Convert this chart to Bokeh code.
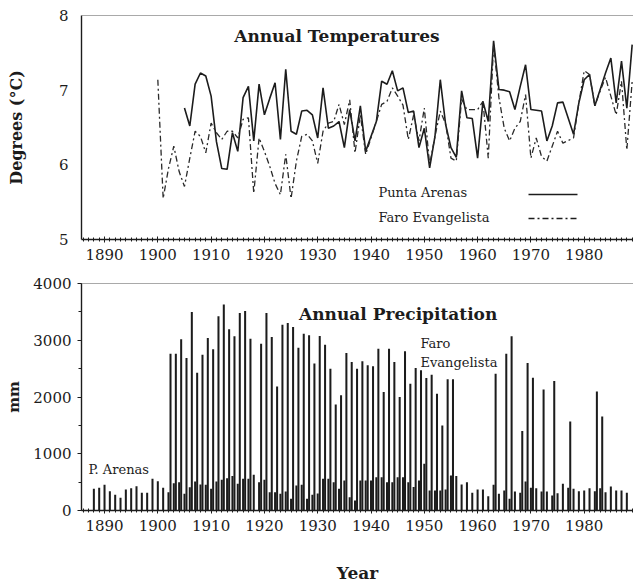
import math
from bokeh.plotting import figure
from bokeh.layouts import column
from bokeh.models import (Range1d, SingleIntervalTicker, FixedTicker, Label, Span,
                          ColumnDataSource, Arrow)
from bokeh.transform import dodge
from bokeh.embed import file_html
from bokeh.resources import INLINE

# ---------------- data ----------------
pa_temp_years = (list(range(1905, 1940)) + list(range(1941, 1977)) + list(range(1978, 1990)))
pa_temp = [6.76, 6.52, 7.08, 7.23, 7.19, 6.92, 6.31, 5.95, 5.94, 6.43,
           6.18, 6.90, 7.05, 6.32, 7.08, 6.67, 6.89, 7.10, 6.34, 7.28,
           6.45, 6.41, 6.72, 6.73, 6.67, 6.36, 7.03, 6.49, 6.52, 6.58,
           6.23, 6.74, 6.32, 6.79, 6.18,
           6.58, 7.12, 7.08, 7.26, 6.99, 7.03, 6.70, 6.72, 6.23, 6.49,
           5.96, 6.38, 7.14, 6.54, 6.23, 6.10, 6.99, 6.63, 6.62, 6.09,
           6.85, 6.58, 7.66, 7.01, 7.00, 6.98, 6.74, 7.05, 7.34, 6.74,
           6.73, 6.72, 6.32, 6.52, 6.83, 6.84,
           6.41, 6.83, 7.14, 7.21, 6.79, 7.01, 7.23, 7.43, 6.83, 7.39, 6.76, 7.61]

fe_temp_years = (list(range(1900, 1940)) + list(range(1941, 1977)) + list(range(1978, 1990)))
fe_temp = [7.14, 5.55, 5.95, 6.25, 5.91, 5.71, 6.09, 6.45, 6.38, 6.16,
           6.56, 6.43, 6.34, 6.45, 6.45, 6.36, 6.61, 6.63, 5.62, 6.36,
           6.18, 5.98, 5.75, 5.60, 6.14, 5.55, 6.05, 6.38, 6.41, 6.32,
           6.02, 6.45, 6.56, 6.58, 6.81, 6.54, 6.87, 6.16, 6.67, 6.14,
           6.58, 6.81, 6.85, 7.03, 6.92, 6.80, 6.34, 6.67, 6.32, 6.76,
           6.00, 6.38, 6.72, 6.55, 6.09, 6.05, 6.88, 6.74, 6.74, 6.74,
           6.85, 6.09, 7.61, 6.90, 6.49, 6.32, 6.49, 6.58, 6.94, 6.09,
           6.36, 6.11, 6.05, 6.25, 6.45, 6.29,
           6.36, 6.83, 7.26, 7.21, 6.79, 6.99, 7.17, 6.92, 6.67, 7.12, 6.20, 7.12]

pa_precip_years = list(range(1888, 1989))
pa_precip = [383, 400, 453, 340, 277, 224, 370, 393, 429, 312,
             312, 559, 517, 400, 323, 482, 500, 294, 411, 511,
             459, 453, 382, 511, 541, 570, 606, 470, 559, 559,
             629, 500, 541, 323, 323, 294, 335, 206, 441, 453,
             206, 276, 300, 559, 559, 500, 382, 529, 235, 176,
             529, 529, 529, 588, 588, 500, 500, 588, 588, 500,
             412, 530, 823, 353, 353, 353, 370, 617, 606, 459,
             500, 312, 370, 370, 253, 453, 294, 353, 206, 335,
             312, 511, 400, 394, 335, 335, 265, 306, 470, 400,
             382, 341, 353, 394, 341, 394, 323, 423, 353, 353,
             312]

fe_precip_years = (list(range(1902, 1918)) + list(range(1919, 1956)) +
                   [1963, 1965, 1966, 1968, 1969, 1970, 1972, 1974, 1977, 1982, 1983])
fe_precip = [2763, 2763, 3016, 2686, 3497, 2428, 2746, 3039, 2840, 3422,
             3628, 3192, 3069, 3480, 3515, 3028,
             2940, 3480, 3057, 2187, 3275, 3304, 3233, 2869, 3116, 3086,
             2590, 3075, 2922, 2499, 1868, 2029, 2775, 2617, 2500, 2628,
             2558, 2540, 2852, 2087, 2852, 2617, 2000, 2805, 2234, 2511,
             2470, 2334, 2393, 2058, 1500, 2311, 2311,
             2411, 2764, 3070, 1400, 2599, 2340, 2134, 2281, 1570, 2099, 1658]

temp_ticks = [5, 6, 7, 8]

# ---------------- styling ----------------
FONT = "DejaVu Serif"
INK = "#1c1c1c"
X0, X1 = 1885.68, 1989.25


def style_common(p):
    p.xgrid.visible = False
    p.ygrid.visible = False
    p.outline_line_color = None
    p.background_fill_color = "white"
    p.border_fill_color = "white"
    xa = p.xaxis[0]
    xa.ticker = SingleIntervalTicker(interval=10, num_minor_ticks=10)
    xa.major_label_text_font = FONT
    xa.major_label_text_font_size = "15px"
    xa.major_label_text_color = INK
    xa.axis_line_color = INK
    xa.axis_line_width = 1.4
    xa.major_tick_line_color = INK
    xa.minor_tick_line_color = INK
    xa.major_tick_in = 3
    xa.major_tick_out = 3
    xa.minor_tick_in = 2
    xa.minor_tick_out = 2
    xa.major_label_standoff = 6
    ya = p.yaxis[0]
    ya.major_label_text_font = FONT
    ya.major_label_text_font_size = "15px"
    ya.major_label_text_color = INK
    ya.axis_line_color = INK
    ya.axis_line_width = 1.4
    ya.major_tick_line_color = INK
    ya.minor_tick_line_color = INK
    ya.axis_label_text_font = FONT
    ya.axis_label_text_font_style = "bold"
    ya.axis_label_text_color = INK


# ---------------- top: temperatures ----------------
p1 = figure(width=633, height=271, output_backend="svg", toolbar_location=None,
            x_range=Range1d(X0, X1), y_range=Range1d(5, 8),
            min_border_left=81, min_border_right=0, min_border_top=15, min_border_bottom=32)
style_common(p1)
p1.yaxis[0].ticker = FixedTicker(ticks=temp_ticks)
p1.yaxis[0].major_tick_out = 0
p1.yaxis[0].major_tick_in = 0
p1.yaxis[0].major_label_standoff = 13
p1.yaxis[0].axis_label = "Degrees (°C)"
p1.yaxis[0].axis_label_text_font_size = "16px"
p1.yaxis[0].axis_label_standoff = 30

p1.add_layout(Span(location=8, dimension="width", line_color="#555", line_width=1))

p1.line(pa_temp_years, pa_temp, line_color=INK, line_width=1.6)
p1.line(fe_temp_years, fe_temp, line_color="#2a2a2a", line_width=1.3, line_dash="6 3 2 3")

p1.add_layout(Label(x=1933.6, y=7.732, text="Annual Temperatures", text_font=FONT,
                    text_font_style="bold", text_font_size="17px", text_color=INK,
                    text_align="center", text_baseline="middle"))
p1.add_layout(Label(x=1941.4, y=5.634, text="Punta Arenas", text_font=FONT,
                    text_font_size="13px", text_color=INK, text_align="left",
                    text_baseline="middle"))
p1.add_layout(Label(x=1941.4, y=5.291, text="Faro Evangelista", text_font=FONT,
                    text_font_size="13px", text_color=INK, text_align="left",
                    text_baseline="middle"))
p1.add_layout(Arrow(end=None, x_start=1969.55, y_start=5.603, x_end=1978.74, y_end=5.603,
                    line_color=INK, line_width=1.4))
p1.add_layout(Arrow(end=None, x_start=1969.55, y_start=5.281, x_end=1978.93, y_end=5.281,
                    line_color=INK, line_width=1.3, line_dash="6 3 2 3"))

# ---------------- bottom: precipitation ----------------
p2 = figure(width=633, height=316, output_backend="svg", toolbar_location=None,
            x_range=Range1d(X0, X1), y_range=Range1d(0, 4000),
            min_border_left=81, min_border_right=0, min_border_top=12, min_border_bottom=77)
style_common(p2)
p2.yaxis[0].ticker = SingleIntervalTicker(interval=1000, num_minor_ticks=2)
p2.yaxis[0].major_tick_out = 4
p2.yaxis[0].major_tick_in = 0
p2.yaxis[0].minor_tick_out = 3
p2.yaxis[0].minor_tick_in = 0
p2.yaxis[0].major_label_standoff = 6
p2.yaxis[0].axis_label = "mm"
p2.yaxis[0].axis_label_text_font_size = "15px"
p2.yaxis[0].axis_label_standoff = 7
p2.xaxis[0].axis_label = "Year"
p2.xaxis[0].axis_label_text_font = FONT
p2.xaxis[0].axis_label_text_font_style = "bold"
p2.xaxis[0].axis_label_text_font_size = "17px"
p2.xaxis[0].axis_label_text_color = INK
p2.xaxis[0].axis_label_standoff = 29

p2.add_layout(Span(location=4000, dimension="width", line_color="#555", line_width=1))

src_pa = ColumnDataSource(dict(year=pa_precip_years, mm=pa_precip))
src_fe = ColumnDataSource(dict(year=fe_precip_years, mm=fe_precip))
p2.vbar(x="year", top="mm", bottom=0, width=0.38, source=src_pa,
        fill_color=INK, line_color=None)
p2.vbar(x=dodge("year", 0.38, range=p2.x_range), top="mm", bottom=0, width=0.38,
        source=src_fe, fill_color=INK, line_color=None)

p2.add_layout(Label(x=1945.1, y=3471, text="Annual Precipitation", text_font=FONT,
                    text_font_style="bold", text_font_size="17px", text_color=INK,
                    text_align="center", text_baseline="middle"))
p2.add_layout(Label(x=1949.28, y=2943, text="Faro", text_font=FONT,
                    text_font_size="13px", text_color=INK, text_align="left",
                    text_baseline="middle"))
p2.add_layout(Label(x=1949.28, y=2608, text="Evangelista", text_font=FONT,
                    text_font_size="13px", text_color=INK, text_align="left",
                    text_baseline="middle"))
p2.add_layout(Label(x=1886.99, y=722, text="P. Arenas", text_font=FONT,
                    text_font_size="13px", text_color=INK, text_align="left",
                    text_baseline="middle"))

layout = column(p1, p2)
open("out.html", "w").write(file_html(layout, INLINE))
